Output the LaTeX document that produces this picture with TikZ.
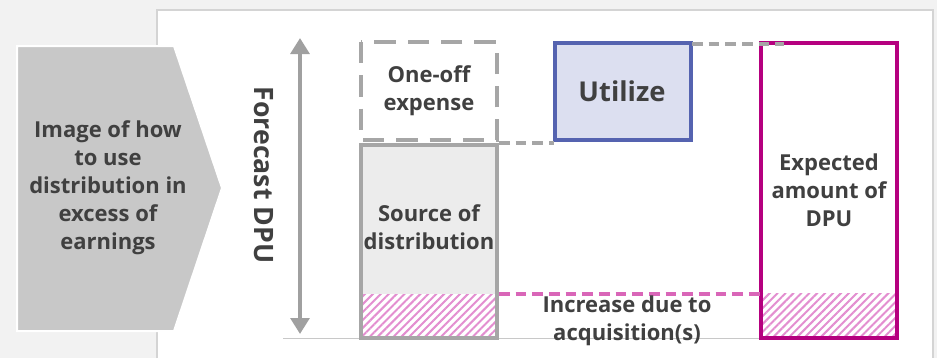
\documentclass[tikz,border=0pt]{standalone}
\usepackage{fontspec}
\setmainfont{Open Sans}
\usetikzlibrary{arrows.meta,patterns.meta,positioning}
\definecolor{bgout}{HTML}{F2F2F2}
\definecolor{panelline}{HTML}{D4D4D4}
\definecolor{chevfill}{HTML}{C8C8C8}
\definecolor{txt}{HTML}{404040}
\definecolor{boxgray}{HTML}{A6A6A6}
\definecolor{srcfill}{HTML}{ECECEC}
\definecolor{utilfill}{HTML}{DCDFF0}
\definecolor{utilline}{HTML}{5563B0}
\definecolor{mag}{HTML}{B5007F}
\definecolor{hatchpink}{HTML}{E38ED0}
\definecolor{pinkdash}{HTML}{D966B8}
\definecolor{axisgray}{HTML}{A0A0A0}
\definecolor{basegray}{HTML}{C8C8C8}
\tikzset{
  lbl/.style={font=\fontsize{16.5}{21}\selectfont\bfseries, text=txt, align=center},
  hatchfill/.style={pattern={Lines[angle=45,distance=4.2pt,line width=1.5pt]}, pattern color=hatchpink},
  greydash/.style={draw=boxgray, line width=3pt, dash pattern=on 16pt off 9pt},
  guide/.style={line width=2.4pt, dash pattern=on 8pt off 4.5pt},
}
\begin{document}
\begin{tikzpicture}[x=0.75pt,y=-0.75pt]
\useasboundingbox (0,0) rectangle (937,358);
% backdrop and white panel
\fill[bgout] (0,0) rectangle (937,358);
\fill[white] (157,10) rectangle (933,358);
\draw[panelline, line width=1.5pt] (157,358) -- (157,10) -- (933,10) -- (933,358);

% chevron with its caption
\draw[white, line width=1.5pt, fill=chevfill]
  (17,46) -- (174,46) -- (222,188) -- (174,331) -- (17,331) -- cycle;
\node[lbl] (caption) at (108,188) {Image of how\\to use\\distribution in\\excess of\\earnings};

% vertical axis
\coordinate (axtop) at (300,38);
\coordinate (axbot) at (300,334);
\draw[axisgray, line width=3.4pt, {Triangle[length=12pt,width=14pt]}-{Triangle[length=12pt,width=14pt]}] (axtop) -- (axbot);
\node[lbl, font=\fontsize{20}{24}\selectfont\bfseries, rotate=-90] (axislbl) at (264,175) {Forecast DPU};

% baseline
\coordinate (baseL) at (283,338.5);
\coordinate (baseR) at (760,338.5);
\draw[basegray, line width=1.2pt] (baseL) -- (baseR);

% source of distribution
\fill[srcfill] (361,145) rectangle (497,294);
\fill[white] (361,294) rectangle (497,338);
\fill[hatchfill] (361,294) rectangle (497,338);
\draw[boxgray, line width=2.4pt] (361,145) rectangle (497,338);
\node[lbl] (source) at (429,227) {Source of\\distribution};

% one-off expense (dashed)
\draw[greydash] (361,42) rectangle (497,140);
\node[lbl] (oneoff) at (429,91) {One-off\\expense};

% utilize
\draw[utilline, fill=utilfill, line width=2.4pt] (555,43) rectangle (691,140);
\node[lbl, font=\fontsize{20.5}{24}\selectfont\bfseries] (util) at (622,91) {Utilize};

% expected amount of DPU
\fill[white] (761,43) rectangle (897,338);
\fill[hatchfill] (761,293) rectangle (897,338);
\draw[mag, line width=2.6pt] (761,43) rectangle (897,338);
\node[lbl] (expected) at (829,190) {Expected\\amount of\\DPU};

% connecting dashed guides
\coordinate (oneoffBR) at (499,143);
\coordinate (utilBL) at (554,143);
\draw[boxgray, guide] (oneoffBR) -- (utilBL);
\coordinate (utilTR) at (692,44);
\coordinate (expTL) at (784,44);
\draw[boxgray, guide] (utilTR) -- (expTL);
\coordinate (srcTR) at (499,294);
\coordinate (expHatch) at (760,294);
\draw[pinkdash, guide] (srcTR) -- (expHatch);

\node[lbl] (increase) at (627,321) {Increase due to\\acquisition(s)};
\end{tikzpicture}
\end{document}
